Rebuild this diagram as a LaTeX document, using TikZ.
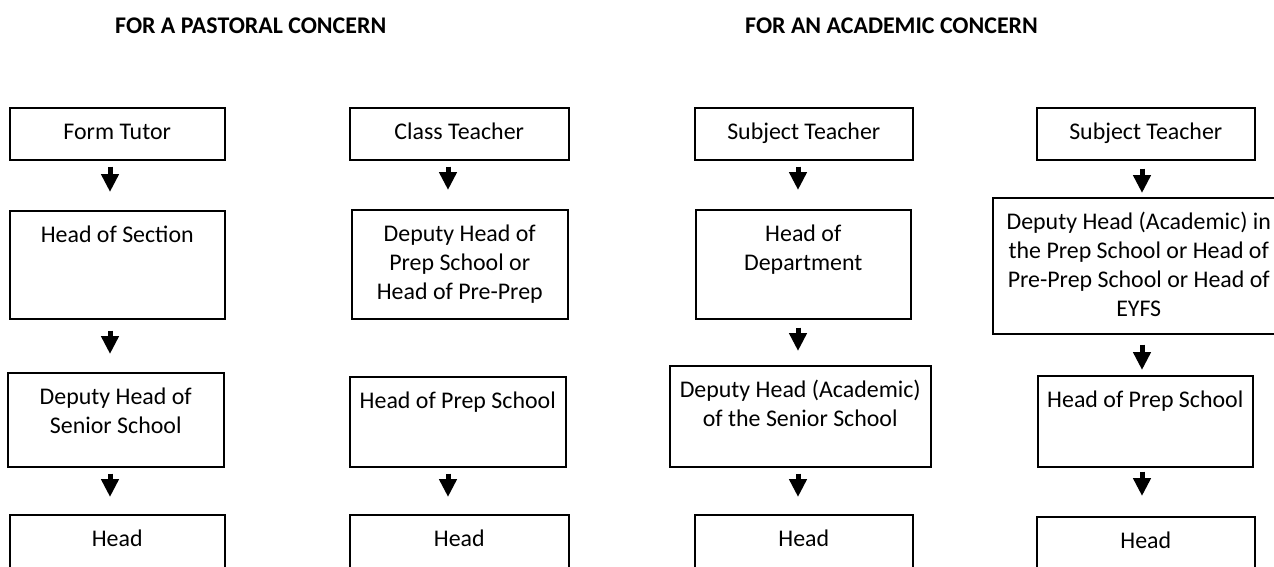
\documentclass[tikz,border=0pt]{standalone}
\usepackage{fontspec}
\setmainfont{Carlito}
\usetikzlibrary{arrows.meta,positioning}
% text of a stage box: width, height, lines (set from the top)
\newcommand{\stagetext}[3]{\parbox[c][#2][t]{#1}{\centering\rule{0pt}{32pt}#3}}

\begin{document}
\begin{tikzpicture}[x=1pt,y=-1pt,
 stage/.style={draw,line width=1.5pt,inner sep=0pt,anchor=north west,font=\fontsize{23.9}{28.8}\selectfont},
 heading/.style={anchor=base west,inner sep=0pt,font=\fontsize{23.9}{28.8}\selectfont\bfseries},
 flow/.style={-{Triangle[width=17pt,length=18pt]},line width=5pt,shorten <=6pt,shorten >=17pt}]
\useasboundingbox (0,0) rectangle (1274,566);
\node[heading] (pastoral) at (115,33) {FOR A PASTORAL CONCERN};
\node[heading] (academic) at (745,33) {FOR AN ACADEMIC CONCERN};
% pastoral, senior school
\node[stage] (tutor) at (9,107) {\stagetext{215pt}{52pt}{Form Tutor}};
\node[stage] (section) at (9,210) {\stagetext{215pt}{108pt}{Head of Section}};
\node[stage] (dhss) at (7,372) {\stagetext{216pt}{94pt}{Deputy Head of\\Senior School}};
\node[stage] (headA) at (9,514) {\stagetext{215pt}{70pt}{Head}};
% pastoral, prep school
\node[stage] (classt) at (349,107) {\stagetext{219pt}{52pt}{Class Teacher}};
\node[stage] (dhprep) at (351,209) {\stagetext{216pt}{109pt}{Deputy Head of\\Prep School or\\Head of Pre-Prep}};
\node[stage] (hprep) at (349,376) {\stagetext{216pt}{90pt}{Head of Prep School}};
\node[stage] (headB) at (349,514) {\stagetext{219pt}{70pt}{Head}};
% academic, senior school
\node[stage] (subjA) at (694,107) {\stagetext{218pt}{52pt}{Subject Teacher}};
\node[stage] (hod) at (695,209) {\stagetext{215pt}{109pt}{Head of\\Department}};
\node[stage] (dhacad) at (669,365) {\stagetext{261pt}{101pt}{Deputy Head (Academic)\\of the Senior School}};
\node[stage] (headC) at (694,514) {\stagetext{218pt}{70pt}{Head}};
% academic, prep school
\node[stage] (subjB) at (1036,107) {\stagetext{218pt}{52pt}{Subject Teacher}};
\node[stage] (dhacadB) at (992,197) {\stagetext{292pt}{136pt}{Deputy Head (Academic) in\\the Prep School or Head of\\Pre-Prep School or Head of\\EYFS}};
\node[stage] (hprepB) at (1037,375) {\stagetext{215pt}{91pt}{Head of Prep School}};
\node[stage] (headD) at (1036,516) {\stagetext{218pt}{70pt}{Head}};
% arrow axes
\coordinate (axisA) at (110,0);
\coordinate (axisB) at (448,0);
\coordinate (axisC) at (798,0);
\coordinate (axisD) at (1142,0);
\draw[flow,shorten >=18pt] (tutor.south -| axisA) -- (section.north -| axisA);
\draw[flow,shorten <=11pt,shorten >=18pt] (section.south -| axisA) -- (dhss.north -| axisA);
\draw[flow] (dhss.south -| axisA) -- (headA.north -| axisA);
\draw[flow,shorten >=19pt] (classt.south -| axisB) -- (dhprep.north -| axisB);
\draw[flow] (hprep.south -| axisB) -- (headB.north -| axisB);
\draw[flow,shorten >=19pt] (subjA.south -| axisC) -- (hod.north -| axisC);
\draw[flow,shorten <=8pt,shorten >=14pt] (hod.south -| axisC) -- (dhacad.north -| axisC);
\draw[flow] (dhacad.south -| axisC) -- (headC.north -| axisC);
\draw[flow,shorten <=8pt,shorten >=4pt] (subjB.south -| axisD) -- (dhacadB.north -| axisD);
\draw[flow,shorten <=10pt,shorten >=5pt] (dhacadB.south -| axisD) -- (hprepB.north -| axisD);
\draw[flow,shorten <=4pt,shorten >=20pt] (hprepB.south -| axisD) -- (headD.north -| axisD);
\end{tikzpicture}
\end{document}
